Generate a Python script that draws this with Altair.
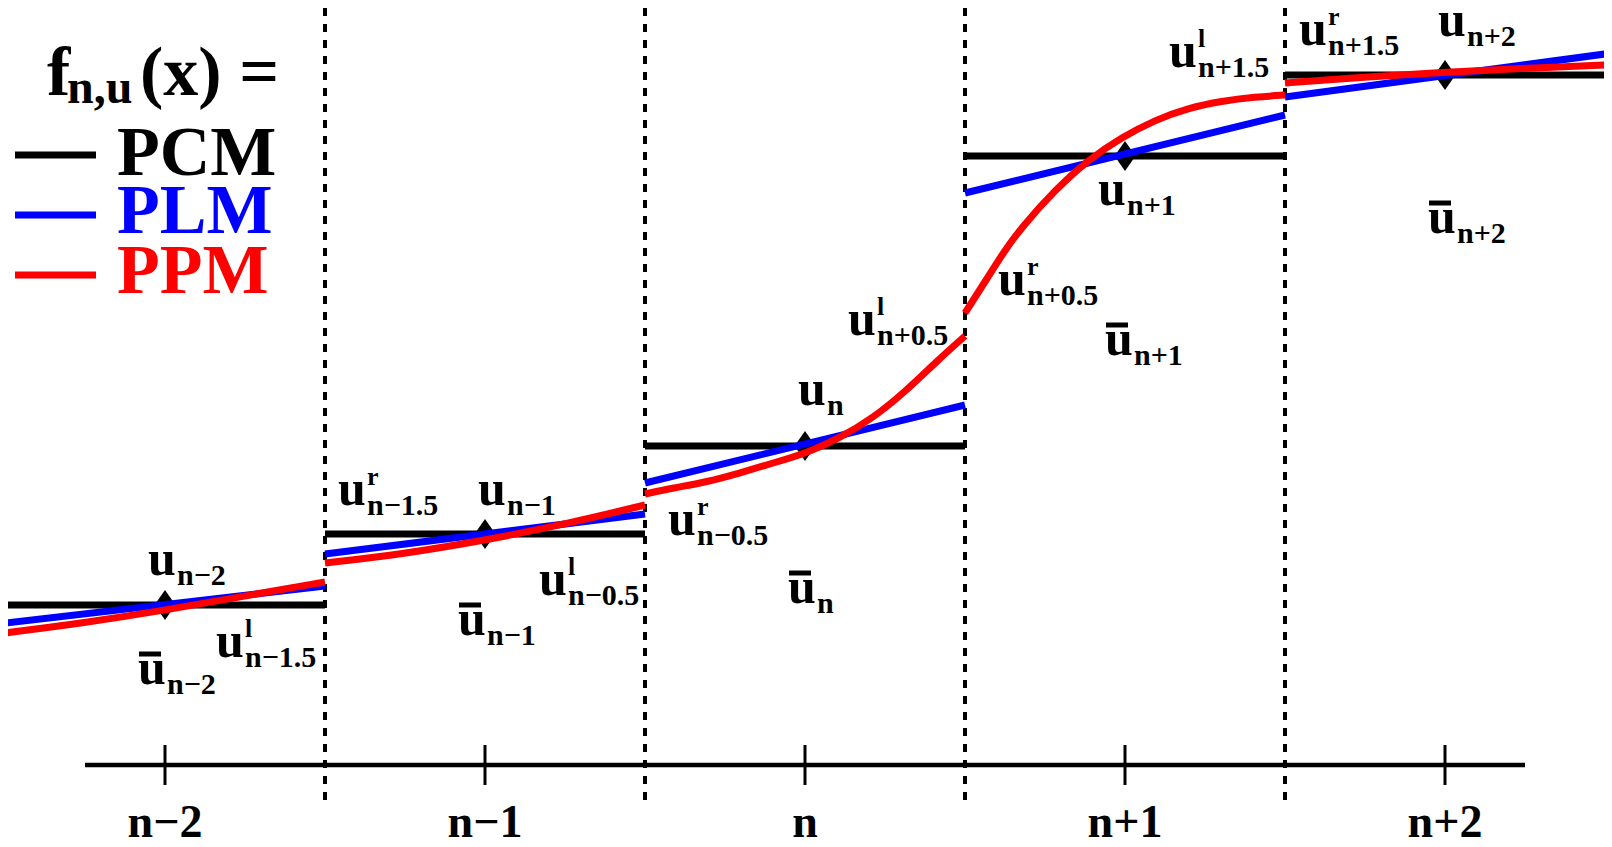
import altair as alt
import pandas as pd

FONT = "Liberation Serif, Times New Roman, Times, serif"

# ---------------- data (x in cell units, 0 = centre of cell n; y in value units) -------------
cell_x = [-2, -1, 0, 1, 2]
cell_names = ["n−2", "n−1", "n", "n+1", "n+2"]
cell_left = [-2.5, -1.5, -0.5, 0.5, 1.5]
cell_right = [-1.5, -0.5, 0.5, 1.5, 2.5]
interfaces = [-1.5, -0.5, 0.5, 1.5]

pcm_values = [2.34, 3.05, 3.93, 6.83, 7.64]
plm_left = [2.16, 2.85, 3.56, 6.46, 7.42]
plm_right = [2.53, 3.25, 4.34, 7.24, 7.85]

ppm_x_n2 = [-2.5, -2.256, -1.994, -1.734, -1.5]
ppm_y_n2 = [2.06, 2.16, 2.29, 2.44, 2.57]
ppm_x_n1 = [-1.5, -1.256, -0.994, -0.734, -0.5]
ppm_y_n1 = [2.76, 2.85, 2.99, 3.16, 3.34]
ppm_x_n0 = [-0.5, -0.4125, -0.306, -0.203, -0.1, 0.006, 0.109, 0.2125, 0.3125, 0.4156, 0.5]
ppm_y_n0 = [3.45, 3.51, 3.57, 3.66, 3.76, 3.86, 4.01, 4.21, 4.47, 4.79, 5.03]
ppm_x_p1 = [0.5, 0.572, 0.625, 0.678, 0.781, 0.884, 0.991, 1.094, 1.197, 1.303, 1.406, 1.5]
ppm_y_p1 = [5.26, 5.62, 5.89, 6.12, 6.49, 6.79, 7.02, 7.19, 7.31, 7.38, 7.42, 7.44]
ppm_x_p2 = [1.5, 1.744, 2.006, 2.266, 2.5]
ppm_y_p2 = [7.56, 7.62, 7.67, 7.71, 7.74]

# annotation labels: u (main), optional superscript, subscript, overbar flag
label_x = [-2.0531, -2.0844, -1.8406, -1.4594, -1.0219, -0.8313, -1.0844, -0.4281, -0.0531,
           -0.0219, 0.1344, 0.6031, 0.9375, 0.9156, 1.1375, 1.5438, 1.9781, 1.9469]
label_y = [2.64, 1.55, 1.82, 3.34, 3.34, 2.44, 2.04, 3.04, 2.36,
           4.34, 5.04, 5.44, 4.84, 6.34, 7.72, 7.94, 8.03, 6.06]
label_sup = ["", "", "l", "r", "", "l", "", "r", "",
             "", "l", "r", "", "", "l", "r", "", ""]
label_sub = ["n−2", "n−2", "n−1.5", "n−1.5", "n−1", "n−0.5", "n−1", "n−0.5", "n",
             "n", "n+0.5", "n+0.5", "n+1", "n+1", "n+1.5", "n+1.5", "n+2", "n+2"]
label_bar = [False, True, False, False, False, False, True, False, True,
             False, False, False, True, False, False, False, False, True]

legend_names = ["PCM", "PLM", "PPM"]
legend_colors = ["#000000", "#0000ff", "#ff0000"]
legend_line_y = [6.84, 6.24, 5.64]
legend_text_y = [6.64, 6.06, 5.46]
legend_line_x = [-2.46875, -2.215625]
legend_text_x = -2.15
title_parts = ["f", "n,u", "(x) ="]
title_x = [-2.3688, -2.3063, -2.0781]
title_y = [7.44, 7.36, 7.44]
title_size = [70, 48, 70]

axis_span = [-2.25, 2.25]
axis_y = 0.74
tick_span = [0.94, 0.54]
axis_label_y = 0.02
dotted_span = [8.31, 0.36]

# ---------------- tables ----------------
pcm_df = pd.DataFrame({"x": cell_left, "x2": cell_right, "y": pcm_values})
plm_df = pd.DataFrame({"x": cell_left, "x2": cell_right, "y": plm_left, "y2": plm_right,
                       "m": ["PLM"] * 5})
ppm_rows = []
for seg, (xs_, ys_) in enumerate([(ppm_x_n2, ppm_y_n2), (ppm_x_n1, ppm_y_n1), (ppm_x_n0, ppm_y_n0),
                                  (ppm_x_p1, ppm_y_p1), (ppm_x_p2, ppm_y_p2)]):
    for i, (a, b) in enumerate(zip(xs_, ys_)):
        ppm_rows.append({"seg": seg, "i": i, "x": a, "y": b, "m": "PPM"})
ppm_df = pd.DataFrame(ppm_rows)
diam_df = pd.DataFrame({"x": cell_x, "y": pcm_values})
lab_df = pd.DataFrame({"x": label_x, "y": label_y, "sup": label_sup, "sub": label_sub,
                       "bar": label_bar})
cells_df = pd.DataFrame({"x": cell_x, "name": cell_names, "y": [tick_span[0]] * 5,
                         "y2": [tick_span[1]] * 5, "ly": [axis_label_y] * 5})
dot_df = pd.DataFrame({"x": interfaces, "y": [dotted_span[0]] * 4, "y2": [dotted_span[1]] * 4})
axis_df = pd.DataFrame({"x": [axis_span[0]], "x2": [axis_span[1]], "y": [axis_y]})
leg_df = pd.DataFrame({"m": legend_names, "x": [legend_line_x[0]] * 3, "x2": [legend_line_x[1]] * 3,
                       "y": legend_line_y, "ty": legend_text_y, "tx": [legend_text_x] * 3})
title_df = pd.DataFrame({"t": title_parts, "x": title_x, "y": title_y, "s": title_size})

# ---------------- scales ----------------
W, H = 1596, 839
xs = alt.Scale(domain=[-2.490625, 2.496875], nice=False, zero=False)
ys = alt.Scale(domain=[-0.08, 8.31], nice=False, zero=False)
cs = alt.Scale(domain=legend_names, range=legend_colors)


def X(f="x"):
    return alt.X(f + ":Q", scale=xs, axis=None)


def Y(f="y"):
    return alt.Y(f + ":Q", scale=ys, axis=None)


dotted = alt.Chart(dot_df).mark_rule(strokeWidth=4, strokeDash=[8, 8], color="black").encode(
    x=X(), y=Y(), y2="y2:Q")
axis_line = alt.Chart(axis_df).mark_rule(strokeWidth=4.5, color="black").encode(
    x=X(), x2="x2:Q", y=Y())
ticks = alt.Chart(cells_df).mark_rule(strokeWidth=3, color="black").encode(
    x=X(), y=Y(), y2="y2:Q")
tick_labels = alt.Chart(cells_df).mark_text(
    font=FONT, fontWeight="bold", fontSize=46, align="center", baseline="alphabetic",
    color="black").encode(x=X(), y=Y("ly"), text="name:N")

pcm = alt.Chart(pcm_df).mark_rule(strokeWidth=7, color="black").encode(
    x=X(), x2="x2:Q", y=Y())
diamonds = alt.Chart(diam_df).mark_point(
    shape="M0,-1L0.7,0L0,1L-0.7,0Z", size=900, filled=True, opacity=1, color="black",
    strokeWidth=0).encode(x=X(), y=Y())
plm = alt.Chart(plm_df).mark_rule(strokeWidth=7).encode(
    x=X(), x2="x2:Q", y=Y(), y2="y2:Q", color=alt.Color("m:N", scale=cs, legend=None))
ppm = alt.Chart(ppm_df).mark_line(strokeWidth=7, interpolate="basis").encode(
    x=X(), y=Y(), detail="seg:N", order="i:Q",
    color=alt.Color("m:N", scale=cs, legend=None))

txt = dict(font=FONT, fontWeight="bold", align="left", baseline="alphabetic", color="black")
lab_main = alt.Chart(lab_df).mark_text(fontSize=50, **txt).encode(
    x=X(), y=Y(), text=alt.value("u"))
lab_sub = alt.Chart(lab_df).mark_text(fontSize=30, dx=29, dy=10, **txt).encode(
    x=X(), y=Y(), text="sub:N")
lab_sup = alt.Chart(lab_df).transform_filter("datum.sup != ''").mark_text(
    fontSize=26, dx=29, dy=-20, **txt).encode(x=X(), y=Y(), text="sup:N")
lab_bar = alt.Chart(lab_df).transform_filter("datum.bar").mark_tick(
    orient="horizontal", size=22, thickness=5, color="black", xOffset=12, yOffset=-30,
    opacity=1).encode(x=X(), y=Y())

leg_lines = alt.Chart(leg_df).mark_rule(strokeWidth=7).encode(
    x=X(), x2="x2:Q", y=Y(), color=alt.Color("m:N", scale=cs, legend=None))
leg_text = alt.Chart(leg_df).mark_text(fontSize=70, **{k: v for k, v in txt.items() if k != "color"}).encode(
    x=X("tx"), y=Y("ty"), text="m:N", color=alt.Color("m:N", scale=cs, legend=None))
title = alt.Chart(title_df).mark_text(**txt).encode(
    x=X(), y=Y(), text="t:N", size=alt.Size("s:Q", scale=None, legend=None))

chart = alt.layer(
    dotted, axis_line, ticks, tick_labels, pcm, diamonds, plm, ppm,
    lab_main, lab_sub, lab_sup, lab_bar, leg_lines, leg_text, title
).properties(width=W, height=H, padding=0, autosize="none", background="white"
).configure_view(stroke=None)

chart.save("out.html", embed_options={"renderer": "svg", "actions": False})
